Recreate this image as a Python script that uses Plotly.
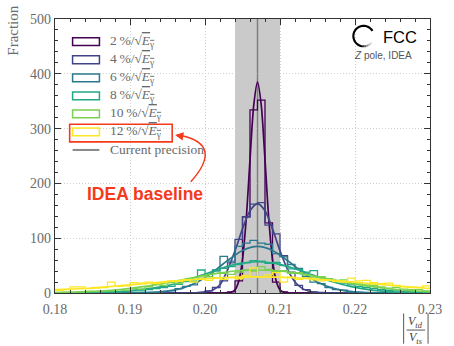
import numpy as np
import plotly.graph_objects as go

# ---------------- data ----------------
bin_lo, bin_hi, n_bins = 0.18, 0.23, 50
resolutions = ["2", "4", "6", "8", "10", "12"]
colors = ["#440154", "#414487", "#2a788e", "#22a884", "#7ad151", "#fde725"]

hist_2 = [0, 0, 0, 0, 0, 0, 0, 0, 0, 0,
          0, 0, 0, 0, 0, 0, 0, 0, 0, 0,
          0, 0, 0, 2, 22, 139, 334, 352, 128, 20,
          2, 0, 0, 0, 0, 0, 0, 0, 0, 0,
          0, 0, 0, 0, 0, 0, 0, 0, 0, 0]
hist_4 = [0, 0, 0, 0, 0, 0, 0, 0, 0, 0,
          0, 0, 0, 0, 0, 0, 0, 0, 0, 1,
          4, 10, 22, 55, 98, 139, 162, 165, 124, 108,
          68, 38, 14, 6, 2, 1, 0, 0, 0, 0,
          0, 0, 0, 0, 0, 0, 0, 0, 0, 0]
hist_6 = [0, 0, 0, 0, 0, 0, 0, 0, 0, 0,
          0.5, 0.5, 1, 1, 3, 4, 8, 12, 15, 26,
          30, 42, 67, 58, 85, 91, 96, 91, 89, 72,
          66, 52, 45, 30, 20, 17, 10, 6, 5, 2,
          1, 0.5, 0, 0, 0, 0, 0, 0, 0, 0]
hist_8 = [0, 0, 0, 0.5, 0.5, 1, 1.5, 1, 2, 2.5,
          4, 4, 6, 8, 10, 12, 16, 21, 24, 42,
          34, 40, 45, 48, 52, 55, 59, 58, 54, 56,
          50, 44, 43, 38, 41, 28, 26, 21, 18, 15,
          12, 10, 8, 6, 5, 4, 3, 2.5, 2, 1]
hist_10 = [1, 1.5, 1, 2, 3, 2.5, 4, 4, 6, 5,
           8, 7, 11, 16, 14, 19, 17, 22, 21, 27,
           30, 28, 36, 34, 38, 42, 40, 48, 43, 39,
           41, 36, 37, 33, 29, 30, 26, 23, 24, 19,
           18, 15, 14, 11, 9, 10, 7, 6, 6, 4]
hist_12 = [5, 6, 11, 11, 8, 9, 10, 20, 12, 13,
           19, 18, 20, 17, 19, 22, 21, 24, 20, 25,
           23, 27, 25, 28, 26, 32, 46, 29, 33, 37,
           20, 29, 25, 27, 24, 22, 23, 21, 20, 27,
           22, 23, 19, 17, 18, 14, 11, 10, 10, 13]

curve_2_x = [0.18, 0.2025, 0.203, 0.2035, 0.204, 0.2045, 0.205, 0.2055, 0.206, 0.2065, 0.207,
             0.2075, 0.208, 0.2085, 0.209, 0.2095, 0.21, 0.2105, 0.211, 0.2115, 0.23]
curve_2_y = [0, 0, 0.2, 1.3, 6, 21.6, 61, 136, 243, 343, 385,
             343, 243, 136, 61, 21.6, 6, 1.3, 0.2, 0, 0]
curve_4_x = [0.18, 0.197, 0.198, 0.199, 0.2, 0.201, 0.202, 0.203, 0.204, 0.205, 0.206, 0.207,
             0.208, 0.209, 0.21, 0.211, 0.212, 0.213, 0.214, 0.215, 0.216, 0.217, 0.23]
curve_4_y = [0, 0, 0.1, 0.5, 2, 5, 15, 42, 77, 117, 150, 163,
             150, 117, 77, 43, 20, 8, 2.8, 0.8, 0.2, 0, 0]
curve_6_x = [0.18, 0.183, 0.185, 0.187, 0.189, 0.191, 0.193, 0.195, 0.197, 0.199, 0.201, 0.203,
             0.205, 0.207, 0.209, 0.211, 0.213, 0.215, 0.217, 0.219, 0.221, 0.223, 0.225, 0.227, 0.23]
curve_6_y = [0, 0, 0, 0, 0.05, 0.3, 1.0, 3.3, 8.8, 20, 37.6, 59.2,
             77.6, 85, 77.6, 59.2, 37.6, 20, 8.8, 3.3, 1.0, 0.3, 0.05, 0, 0]
wide_x = [0.18, 0.182, 0.1845, 0.187, 0.1895, 0.192, 0.1945, 0.197, 0.1995, 0.202, 0.2045,
          0.207, 0.2095, 0.212, 0.2145, 0.217, 0.2195, 0.222, 0.2245, 0.227, 0.2295, 0.23]
curve_8_y = [0.05, 0.1, 0.4, 1.6, 3.5, 7, 12, 20.5, 32.1, 44.2, 53.5,
             57, 53.5, 44.2, 32.1, 20.5, 11.6, 5.7, 2.5, 1.0, 0.3, 0.25]
curve_10_y = [0.9, 1.3, 2.6, 4.6, 7.7, 12.1, 17.7, 24.1, 30.8, 36.6, 40.6,
              42, 40.6, 36.6, 30.8, 24.1, 17.7, 12.1, 7.7, 4.6, 2.6, 2.3]
curve_12_y = [6.3, 7, 8.7, 11.3, 14.2, 17.2, 20.2, 23.2, 25.8, 27.8, 29.1,
              29.5, 29.1, 27.8, 25.8, 23.2, 20.2, 17.2, 14.2, 11.3, 8.7, 8.3]

hists = [hist_2, hist_4, hist_6, hist_8, hist_10, hist_12]
curves_x = [curve_2_x, curve_4_x, curve_6_x, wide_x, wide_x, wide_x]
curves_y = [curve_2_y, curve_4_y, curve_6_y, curve_8_y, curve_10_y, curve_12_y]

current_value = 0.207
current_unc = 0.003

# ---------------- layout helpers ----------------
W, H = 454, 346
ML, MR, MT, MB = 55, 15, 12, 53
PW, PH = W - ML - MR, H - MT - MB


def px(x):
    return (x - ML) / PW


def py(y):
    return (H - MB - y) / PH


SERIF = "Liberation Serif"
SANS = "Liberation Sans"
GREY_TXT = "#6a6a6a"
RED = "#f53a1c"

fig = go.Figure()

edges = np.linspace(bin_lo, bin_hi, n_bins + 1)
for h, cx, cy, col in zip(hists, curves_x, curves_y, colors):
    fig.add_trace(go.Scatter(x=edges, y=list(h) + [h[-1]], mode="lines",
                             line=dict(color=col, width=1.3, shape="hv"),
                             hoverinfo="skip", showlegend=False))
    fig.add_trace(go.Scatter(x=cx, y=cy, mode="lines",
                             line=dict(color=col, width=1.7, shape="spline", smoothing=0.8),
                             hoverinfo="skip", showlegend=False))

shapes = []
annotations = []

# current precision band + line
shapes.append(dict(type="rect", xref="x", yref="paper",
                   x0=current_value - current_unc, x1=current_value + current_unc,
                   y0=0, y1=1, fillcolor="rgba(150,150,150,0.5)", line=dict(width=0),
                   layer="between"))
shapes.append(dict(type="line", xref="x", yref="paper", x0=current_value, x1=current_value,
                   y0=0, y1=1, line=dict(color="#7f7f7f", width=1.5), layer="between"))

# manual legend
leg_y0, leg_dy = 35.3, 18.5
for j, (res, col) in enumerate(zip(resolutions, colors)):
    yc = leg_y0 + j * leg_dy
    shapes.append(dict(type="rect", xref="paper", yref="paper",
                       x0=px(73), x1=px(100.5), y0=py(yc + 4), y1=py(yc - 4),
                       line=dict(color=col, width=1.5), fillcolor="rgba(0,0,0,0)"))
    annotations.append(dict(
        xref="paper", yref="paper", x=px(109), y=py(yc), xanchor="left", yanchor="middle",
        showarrow=False,
        text=f"{res}\u2009%/\u221a<span style='text-decoration:overline'><i>E</i><sub>\u03b3</sub></span>",
        font=dict(family=SERIF, size=13.5, color=GREY_TXT)))
yc = leg_y0 + 6 * leg_dy
shapes.append(dict(type="line", xref="paper", yref="paper", x0=px(73), x1=px(100.5),
                   y0=py(yc), y1=py(yc), line=dict(color="#888888", width=2)))
annotations.append(dict(xref="paper", yref="paper", x=px(109), y=py(yc), xanchor="left",
                        yanchor="middle", showarrow=False, text="Current precision",
                        font=dict(family=SERIF, size=13.5, color=GREY_TXT)))

# red box, text and arrow
shapes.append(dict(type="rect", xref="paper", yref="paper", x0=px(70), x1=px(175),
                   y0=py(138), y1=py(120), line=dict(color=RED, width=1.6)))
annotations.append(dict(xref="paper", yref="paper", x=px(147), y=py(191), xanchor="center",
                        yanchor="middle", showarrow=False, text="<b>IDEA baseline</b>",
                        font=dict(family=SANS, size=17.5, color=RED)))
shapes.append(dict(type="path", xref="paper", yref="paper",
                   path=f"M {px(194)},{py(179)} Q {px(228)},{py(141)} {px(184)},{py(131.5)}",
                   line=dict(color=RED, width=1.5)))
annotations.append(dict(xref="paper", yref="paper", x=px(178), y=py(131), ax=9, ay=1.5,
                        text="", showarrow=True, arrowhead=2, arrowsize=1.1, arrowwidth=1.5,
                        arrowcolor=RED))

# FCC logo
cxp, cyp, r = 371, 29.5, 10.5


def arc(a0, a1, n=30):
    t = np.radians(np.linspace(a0, a1, n))
    pts = [(px(cxp + r * np.cos(a)), py(cyp - r * np.sin(a))) for a in t]
    return "M " + " L ".join(f"{a:.5f},{b:.5f}" for a, b in pts)


shapes.append(dict(type="path", xref="paper", yref="paper", path=arc(30, 262),
                   line=dict(color="black", width=2.1)))
fade = ["#333333", "#666666", "#999999", "#bdbdbd", "#dedede"]
for k, c in enumerate(fade):
    shapes.append(dict(type="path", xref="paper", yref="paper",
                       path=arc(261 + k * 12, 274 + k * 12, 6), line=dict(color=c, width=2.1)))
annotations.append(dict(xref="paper", yref="paper", x=px(389), y=py(30), xanchor="left",
                        yanchor="middle", showarrow=False, text="FCC",
                        font=dict(family=SANS, size=16.5, color="black")))
annotations.append(dict(xref="paper", yref="paper", x=px(391), y=py(49), xanchor="center",
                        yanchor="middle", showarrow=False, text="<i>Z</i> pole, IDEA",
                        font=dict(family=SANS, size=10, color="#555555")))

# axis titles
annotations.append(dict(xref="paper", yref="paper", x=px(12), y=py(24), xanchor="center",
                        yanchor="middle", textangle=-90, showarrow=False, text="Fraction",
                        font=dict(family=SERIF, size=15, color=GREY_TXT)))
annotations.append(dict(xref="paper", yref="paper", x=px(424), y=py(323), xanchor="center",
                        yanchor="middle", showarrow=False, text="<i>V</i><sub><i>td</i></sub>",
                        font=dict(family=SERIF, size=12, color="#444444")))
annotations.append(dict(xref="paper", yref="paper", x=px(424), y=py(339), xanchor="center",
                        yanchor="middle", showarrow=False, text="<i>V</i><sub><i>ts</i></sub>",
                        font=dict(family=SERIF, size=12, color="#444444")))
shapes.append(dict(type="line", xref="paper", yref="paper", x0=px(415), x1=px(434),
                   y0=py(331), y1=py(331), line=dict(color="#444444", width=0.9)))
for xb in (412, 437):
    shapes.append(dict(type="line", xref="paper", yref="paper", x0=px(xb), x1=px(xb),
                       y0=py(314), y1=py(345), line=dict(color="#444444", width=0.9)))

axis_common = dict(showline=True, linecolor="#333333", linewidth=1.2, mirror="allticks",
                   ticks="inside", ticklen=6, tickwidth=1, tickcolor="#333333",
                   showgrid=True, gridcolor="#cfcfcf", griddash="1px,2px", gridwidth=1,
                   zeroline=False, tickfont=dict(family=SERIF, size=14, color=GREY_TXT))

fig.update_layout(
    width=W, height=H, margin=dict(l=ML, r=MR, t=MT, b=MB),
    paper_bgcolor="white", plot_bgcolor="white",
    showlegend=False, shapes=shapes, annotations=annotations,
    xaxis=dict(range=[bin_lo, bin_hi], dtick=0.01, tickformat=".2f", ticklabelstandoff=3,
               minor=dict(dtick=0.002, ticks="inside", ticklen=3, tickcolor="#333333",
                          showgrid=False), **axis_common),
    yaxis=dict(range=[0, 500], dtick=100,
               minor=dict(dtick=20, ticks="inside", ticklen=3, tickcolor="#333333",
                          showgrid=False), **axis_common),
)

fig.write_html("out.html")
